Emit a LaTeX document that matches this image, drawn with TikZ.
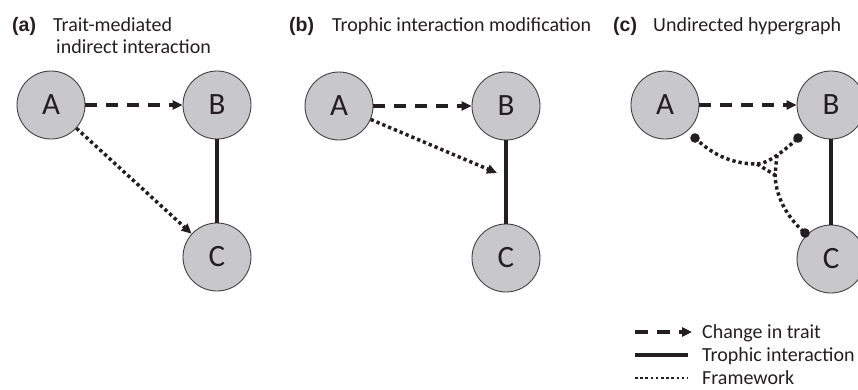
\documentclass[tikz,border=0pt]{standalone}
\usepackage{fontspec}
\setmainfont{Carlito}
\newfontfamily\labfont{Liberation Sans}
\usetikzlibrary{arrows.meta}
\definecolor{nodefill}{RGB}{200,200,202}
\definecolor{inkc}{RGB}{35,31,32}
\begin{document}
\begin{tikzpicture}[x=1pt,y=-1pt,
  nd/.style={circle,draw=inkc!85,line width=0.9pt,fill=nodefill,minimum size=68pt,inner sep=0pt,
    font=\fontsize{31}{31}\selectfont,text=inkc},
  txt/.style={anchor=base west,inner sep=0pt,font=\fontsize{20}{23}\selectfont,text=inkc},
  lab/.style={anchor=base west,inner sep=0pt,font=\labfont\bfseries\fontsize{19.5}{23}\selectfont,text=inkc},
  tip/.style={-{Triangle[length=10pt,width=9pt]}},
  dashedge/.style={draw=inkc,line width=3.6pt,dash pattern=on 12pt off 9pt,tip},
  dotedge/.style={draw=inkc,line width=3.5pt,dash pattern=on 3.3pt off 3pt},
  solidedge/.style={draw=inkc,line width=3.4pt},
  hdot/.style={fill=inkc}
]
\useasboundingbox (0,0) rectangle (858,389);
\clip (0,0) rectangle (858,389);

% ---------- panel (a)
\node[lab] (la) at (12,31) {(a)};
\node[txt] (ta1) at (53,31) {Trait-mediated};
\node[txt] (ta2) at (56,53) {indirect interaction};
\node[nd] (aA) at (51,105) {A};
\node[nd] (aB) at (217,105) {B};
\node[nd] (aC) at (217,257) {C};
\draw[dashedge] (aA) -- (aB);
\draw[solidedge] (aB) -- (aC);
\draw[dotedge,tip] (aA) -- (aC);

% ---------- panel (b)
\node[lab] (lb) at (289,31) {(b)};
\node[txt] (tb1) at (332,31) {Trophic interaction modification};
\node[nd] (bA) at (339,106) {A};
\node[nd] (bB) at (506,106) {B};
\node[nd] (bC) at (506,258) {C};
\coordinate (bT) at (497,173);
\draw[dashedge] (bA) -- (bB);
\draw[solidedge] (bB) -- (bC);
\draw[dotedge,tip] (bA) -- (bT);

% ---------- panel (c)
\node[lab] (lc) at (613,31) {(c)};
\node[txt] (tc1) at (653,31) {Undirected hypergraph};
\node[nd] (cA) at (665,105) {A};
\node[nd] (cB) at (831,105) {B};
\node[nd] (cC) at (831,259) {C};
\draw[dashedge] (cA) -- (cB);
\draw[solidedge] (cB) -- (cC);
\coordinate (dA) at (695,138);
\coordinate (dB) at (798,138);
\coordinate (dC) at (805,233);
\coordinate (jA) at (757,164);
\coordinate (jB) at (777,155);
\coordinate (jC) at (775,175);
\draw[dotedge] (dA) .. controls (715,157) and (735,164) .. (jA)
  .. controls (768,164) and (785,150) .. (dB);
\draw[dotedge] (jB) -- (jC) .. controls (776,200) and (790,220) .. (dC);
\draw[dotedge] (jA) -- (jC);
\fill[hdot] (dA) circle (4.8pt);
\fill[hdot] (dB) circle (4.8pt);
\fill[hdot] (dC) circle (4.8pt);

% ---------- legend
\coordinate (l1s) at (635,332);
\coordinate (l1e) at (692,332);
\coordinate (l2s) at (635,355);
\coordinate (l2e) at (688,355);
\coordinate (l3s) at (635,378);
\coordinate (l3e) at (688,378);
\draw[draw=inkc,line width=3.2pt,dash pattern=on 13pt off 9pt,tip] (l1s) -- (l1e);
\draw[solidedge] (l2s) -- (l2e);
\draw[dotedge,line width=2.8pt,dash pattern=on 2.6pt off 2.6pt] (l3s) -- (l3e);
\node[txt] (g1) at (702,338) {Change in trait};
\node[txt] (g2) at (702,361) {Trophic interaction};
\node[txt] (g3) at (702,384) {Framework};
\end{tikzpicture}
\end{document}
